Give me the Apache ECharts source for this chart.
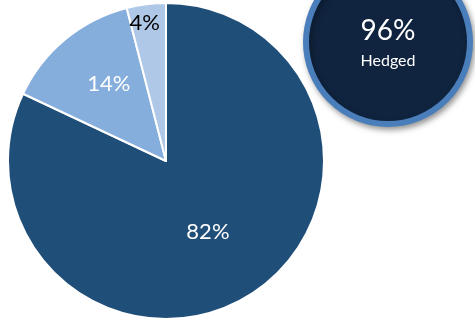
<!DOCTYPE html>
<html>
<head>
<meta charset="utf-8">
<script src="https://cdn.jsdelivr.net/npm/echarts@6/dist/echarts.min.js"></script>
<style>
  html, body { margin: 0; padding: 0; background: #ffffff; }
  #chart { width: 475px; height: 320px; }
</style>
</head>
<body>
<div id="chart"></div>
<script>
// Hedge coverage breakdown
const categories = ['Hedged (core)', 'Hedged (additional)', 'Unhedged'];
const shares = [82, 14, 4];
const sliceColors = ['#1F4E79', '#85AEDD', '#B0C8E8'];
const labelColors = ['#ffffff', '#ffffff', '#000000'];
const hedgedTotal = [96];
const hedgedCaption = ['Hedged'];

// label nudges (px) for each slice, relative to the default inside position
const labelNudge = [[-2, 2], [-5, -14], [-11, -57]];

const chart = echarts.init(document.getElementById('chart'), null, { renderer: 'canvas' });

const FONT = 'Lato, "Open Sans", "Liberation Sans", sans-serif';

chart.setOption({
  animation: false,
  series: [
    {
      type: 'pie',
      center: [166, 161],
      radius: [0, 158],
      startAngle: 90,
      clockwise: true,
      silent: true,
      itemStyle: { borderColor: '#ffffff', borderWidth: 2 },
      label: {
        show: true,
        position: 'inside',
        fontFamily: FONT,
        fontSize: 22,
        formatter: p => p.value + '%'
      },
      labelLine: { show: false },
      labelLayout: p => ({ dx: labelNudge[p.dataIndex][0], dy: labelNudge[p.dataIndex][1] }),
      data: categories.map((name, i) => ({
        name,
        value: shares[i],
        itemStyle: { color: sliceColors[i] },
        label: { color: labelColors[i] }
      }))
    },
    {
      type: 'pie',
      center: [388, 42],
      radius: [0, 82],
      silent: true,
      itemStyle: {
        color: '#10243F',
        borderColor: '#4A7EBB',
        borderWidth: 6,
        shadowBlur: 6,
        shadowOffsetX: 2,
        shadowOffsetY: 3,
        shadowColor: 'rgba(0,0,0,0.35)'
      },
      label: {
        show: true,
        position: 'center',
        formatter: () => '{big|' + hedgedTotal[0] + '%}\n{small|' + hedgedCaption[0] + '}',
        rich: {
          big: { fontFamily: FONT, fontSize: 28, color: '#ffffff', lineHeight: 34 },
          small: { fontFamily: FONT, fontSize: 16, color: '#ffffff', lineHeight: 26 }
        }
      },
      labelLine: { show: false },
      labelLayout: { dy: 2 },
      data: [{ name: hedgedCaption[0], value: hedgedTotal[0] }]
    }
  ]
});
</script>
</body>
</html>
